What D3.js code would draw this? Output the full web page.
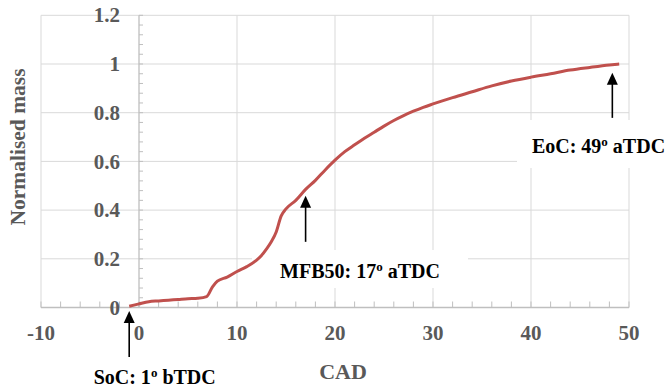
<!DOCTYPE html>
<html>
<head>
<meta charset="utf-8">
<script src="https://cdn.jsdelivr.net/npm/d3@7"></script>
<style>
  html, body { margin: 0; padding: 0; background: #fff; }
  svg { display: block; font-family: "Liberation Serif", "Times New Roman", serif; font-weight: bold; }
</style>
</head>
<body>
<svg id="chart" width="667" height="387"></svg>
<script>
// ---- data ----
const cad = [-1, 0, 1, 2, 3, 4, 5, 6, 6.9, 7.5, 8, 9, 10, 11, 12, 12.5, 13, 13.5, 14, 14.5, 15, 16, 17, 18, 19, 20, 21, 22, 23, 24, 25, 26, 27, 28, 29, 30, 32, 34, 36, 38, 40, 42, 44, 46, 48, 49];
const mass = [0.005, 0.015, 0.024, 0.027, 0.030, 0.033, 0.036, 0.038, 0.045, 0.085, 0.108, 0.125, 0.148, 0.168, 0.195, 0.214, 0.240, 0.270, 0.310, 0.375, 0.405, 0.440, 0.485, 0.522, 0.565, 0.605, 0.640, 0.668, 0.695, 0.720, 0.745, 0.768, 0.788, 0.806, 0.822, 0.836, 0.862, 0.886, 0.910, 0.930, 0.946, 0.960, 0.975, 0.986, 0.996, 1.000];
const xTicks = [-10, 0, 10, 20, 30, 40, 50];
const yTicks = [0, 0.2, 0.4, 0.6, 0.8, 1, 1.2];
const xTitle = "CAD";
const yTitle = "Normalised mass";
const annotLabels = [["SoC: 1", " bTDC"], ["MFB50: 17", " aTDC"], ["EoC: 49", " aTDC"]];
const annotX = [-1, 17, 48.3];
const annotY = [0, 0.475, 0.98];

// ---- layout ----
const svg = d3.select("#chart");
const x = d3.scaleLinear().domain([-10, 50]).range([41, 629]);
const y = d3.scaleLinear().domain([0, 1.2]).range([307.5, 15.3]);
const gridC = "#d9d9d9", axisC = "#bfbfbf", textC = "#595959";

// gridlines
svg.append("g").selectAll("line").data(yTicks.filter(d => d > 0)).join("line")
  .attr("x1", x(-10)).attr("x2", x(50)).attr("y1", d => y(d)).attr("y2", d => y(d))
  .attr("stroke", gridC).attr("stroke-width", 1);
svg.append("g").selectAll("line").data(xTicks.filter(d => d !== 0)).join("line")
  .attr("x1", d => x(d)).attr("x2", d => x(d)).attr("y1", y(0)).attr("y2", y(1.2))
  .attr("stroke", gridC).attr("stroke-width", 1);

// axes lines
svg.append("line").attr("x1", x(-10)).attr("x2", x(50)).attr("y1", y(0)).attr("y2", y(0))
  .attr("stroke", axisC).attr("stroke-width", 1.3);
svg.append("line").attr("x1", x(0)).attr("x2", x(0)).attr("y1", y(0)).attr("y2", y(1.2))
  .attr("stroke", axisC).attr("stroke-width", 1.3);

// minor ticks
svg.append("g").selectAll("line").data(d3.range(-10, 51, 2)).join("line")
  .attr("x1", d => x(d)).attr("x2", d => x(d)).attr("y1", y(0)).attr("y2", y(0) - 6)
  .attr("stroke", axisC).attr("stroke-width", 1);
svg.append("g").selectAll("line").data(d3.range(0, 31).map(i => i * 0.04)).join("line")
  .attr("x1", x(0)).attr("x2", x(0) + 4).attr("y1", d => y(d)).attr("y2", d => y(d))
  .attr("stroke", axisC).attr("stroke-width", 1);

// white label boxes (cover gridlines)
svg.append("rect").attr("x", 252).attr("y", 250).attr("width", 216).attr("height", 38).attr("fill", "#fff");
svg.append("rect").attr("x", 517).attr("y", 120).attr("width", 160).attr("height", 48).attr("fill", "#fff");

// tick labels
svg.append("g").selectAll("text").data(yTicks).join("text")
  .attr("x", 120).attr("y", d => y(d)).attr("dy", "0.34em")
  .attr("text-anchor", "end").attr("font-size", 21).attr("fill", textC)
  .text(d => d3.format("~g")(d));
svg.append("g").selectAll("text").data(xTicks).join("text")
  .attr("x", d => x(d)).attr("y", 340)
  .attr("text-anchor", "middle").attr("font-size", 21).attr("fill", textC)
  .text(d => d);

// axis titles
svg.append("text").attr("x", 343).attr("y", 378.5).attr("text-anchor", "middle")
  .attr("font-size", 22).attr("fill", textC).text(xTitle);
svg.append("text").attr("transform", "translate(25,147) rotate(-90)").attr("text-anchor", "middle")
  .attr("font-size", 21.5).attr("fill", textC).text(yTitle);

// curve
const pts = cad.map((c, i) => [c, mass[i]]);
svg.append("path").datum(pts)
  .attr("fill", "none").attr("stroke", "#C0504D").attr("stroke-width", 3).attr("stroke-linejoin", "round")
  .attr("d", d3.line().x(d => x(d[0])).y(d => y(d[1])).curve(d3.curveMonotoneX));

// arrows
const arrowLen = [46, 46, 45];
annotX.forEach((ax, i) => {
  const px = x(ax), tip = y(annotY[i]) + (i === 0 ? 3.5 : 4);
  svg.append("line").attr("x1", px).attr("x2", px).attr("y1", tip + 8).attr("y2", tip + arrowLen[i])
    .attr("stroke", "#000").attr("stroke-width", 1.6);
  svg.append("path").attr("d", `M${px},${tip} L${px - 5.5},${tip + 12} L${px + 5.5},${tip + 12} Z`).attr("fill", "#000");
});

// annotation texts
const annotPos = [[154.7, 384], [360, 278], [598.5, 153.3]];
annotLabels.forEach((lab, i) => {
  const t = svg.append("text").attr("x", annotPos[i][0]).attr("y", annotPos[i][1])
    .attr("text-anchor", "middle").attr("font-size", 20).attr("fill", "#000");
  t.append("tspan").text(lab[0]);
  t.append("tspan").attr("font-size", 13).attr("dy", -7).text("o");
  t.append("tspan").attr("dy", 7).text(lab[1]);
});
</script>
</body>
</html>
